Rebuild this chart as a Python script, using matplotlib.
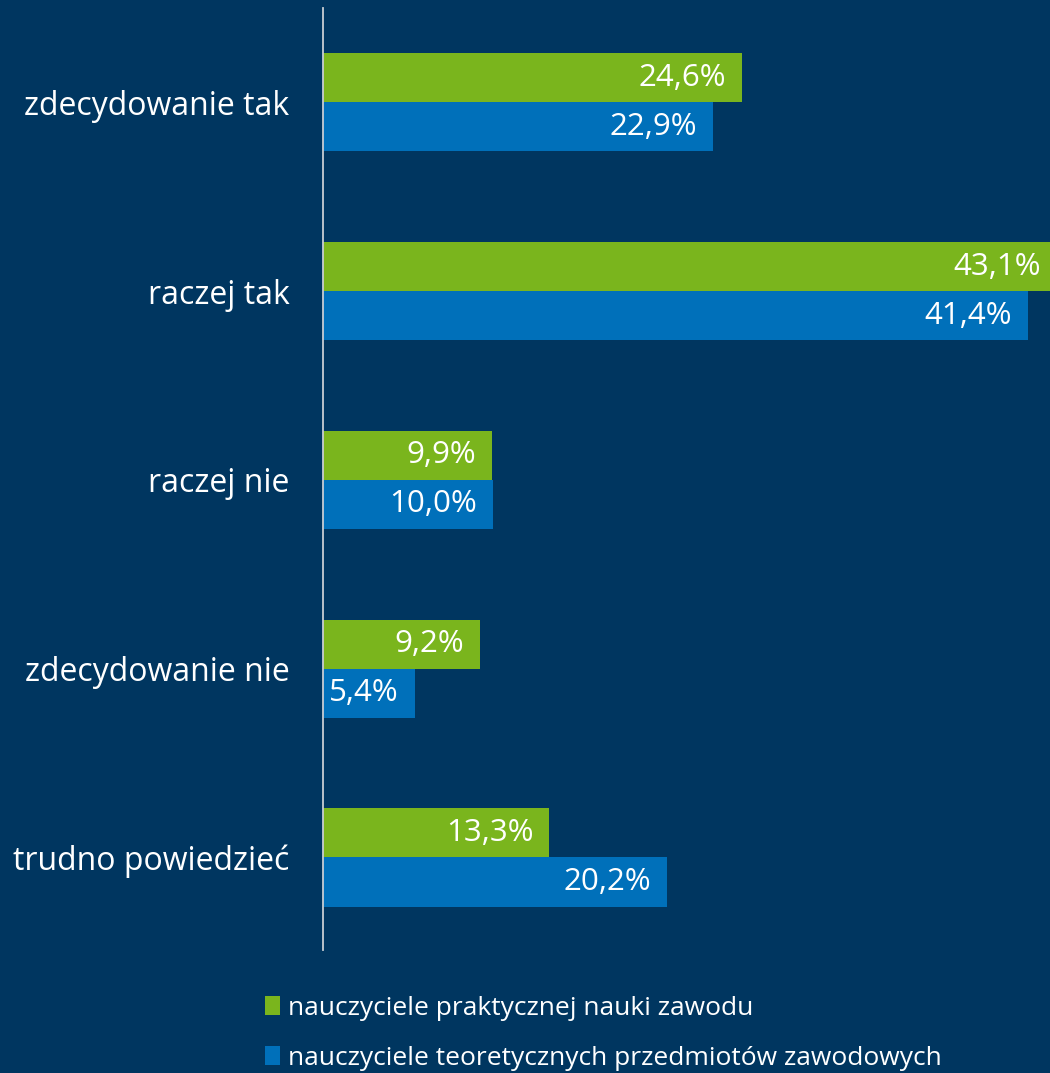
import matplotlib.pyplot as plt
import numpy as np

# survey answers and shares (%) for the two teacher groups
categories = ['zdecydowanie tak', 'raczej tak', 'raczej nie', 'zdecydowanie nie', 'trudno powiedzieć']
practical = [24.6, 43.1, 9.9, 9.2, 13.3]
theoretical = [22.9, 41.4, 10.0, 5.4, 20.2]
series_names = ['nauczyciele praktycznej nauki zawodu',
                'nauczyciele teoretycznych przedmiotów zawodowych']

bg = '#003660'
green = '#7AB51D'
blue = '#0070BA'

plt.rcParams['font.family'] = ['Open Sans', 'DejaVu Sans']

fig = plt.figure(figsize=(10.5, 10.73), dpi=100, facecolor=bg)
ax = fig.add_axes([323 / 1050, (1073 - 950) / 1073, 727 / 1050, 942 / 1073])
ax.set_facecolor(bg)

y = np.arange(len(categories))
h = 0.26
b1 = ax.barh(y - h / 2, practical, height=h, color=green, label=series_names[0])
b2 = ax.barh(y + h / 2, theoretical, height=h, color=blue, label=series_names[1])

for bars, vals in [(b1, practical), (b2, theoretical)]:
    for bar, v in zip(bars, vals):
        ax.annotate(f'{v:.1f}%'.replace('.', ','),
                    xy=(v, bar.get_y() + bar.get_height() / 2),
                    xytext=(-16, 0), textcoords='offset pixels',
                    ha='right', va='center', color='white', fontsize=22.5,
                    annotation_clip=False)

ax.set_xlim(0, 42.7)
ax.set_ylim(4.49, -0.5)
ax.set_yticks(y)
ax.set_yticklabels(categories, color='white', fontsize=23)
ax.tick_params(axis='y', length=0, pad=24)
ax.set_xticks([])
for side in ['top', 'right', 'bottom']:
    ax.spines[side].set_visible(False)
ax.spines['left'].set_color('#C8CDD3')
ax.spines['left'].set_linewidth(1.3)

leg = fig.legend(handles=[b1, b2], loc='upper left',
                 bbox_to_anchor=(254 / 1050, (1073 - 985) / 1073),
                 frameon=False, fontsize=19, labelcolor='white',
                 handlelength=0.6, handleheight=0.7, handletextpad=0.3,
                 labelspacing=0.95, borderaxespad=0)

fig.savefig('out.png', dpi=100, facecolor=bg)
